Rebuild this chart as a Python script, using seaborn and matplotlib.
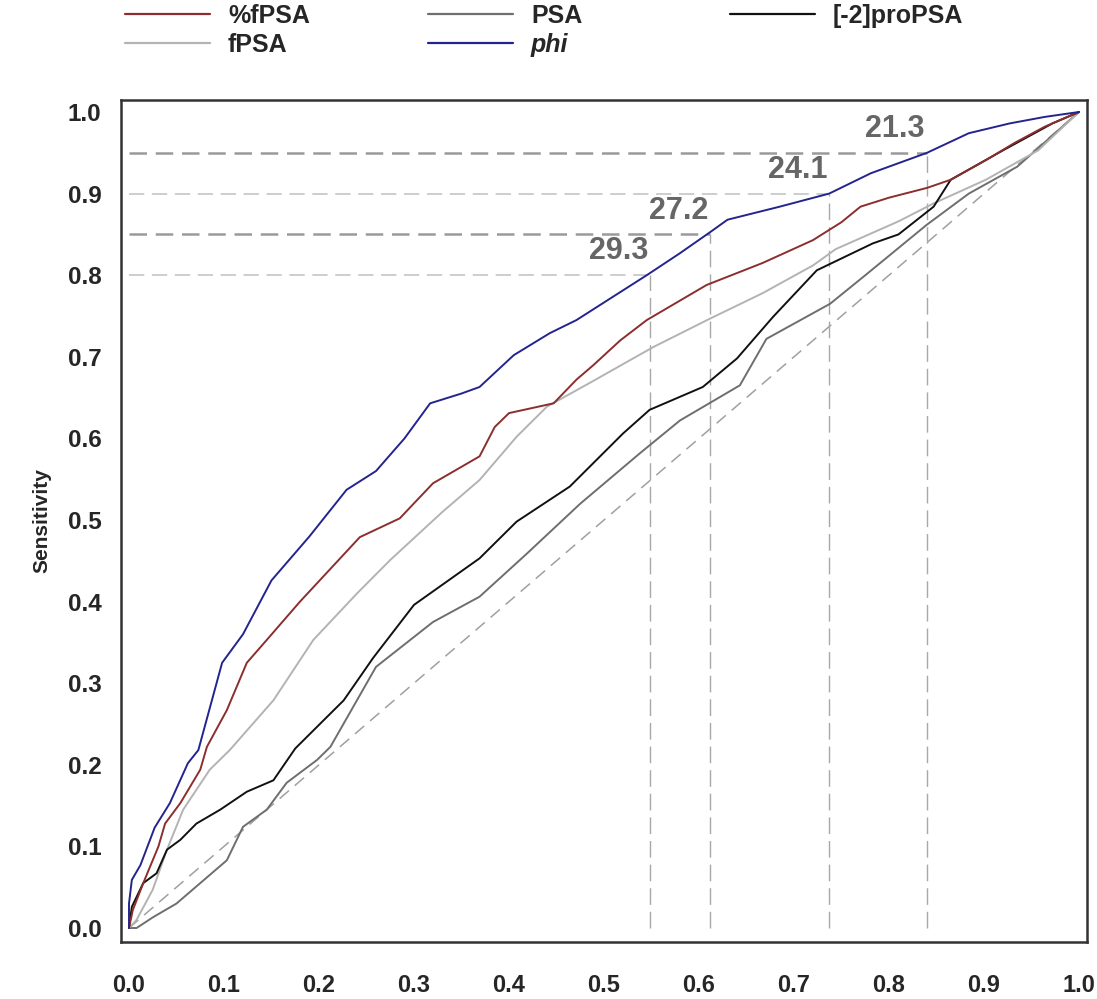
import matplotlib
matplotlib.use("Agg")
import matplotlib.pyplot as plt
import seaborn as sns
import pandas as pd
from matplotlib.lines import Line2D

# ---------------- data ----------------
series_names = ["%fPSA", "fPSA", "PSA", "phi", "[-2]proPSA"]

phi_x = [0, 0, 0.003, 0.012, 0.027, 0.043, 0.062, 0.073, 0.098, 0.12, 0.15, 0.19, 0.229, 0.26,
         0.29, 0.317, 0.35, 0.369, 0.405, 0.443, 0.471, 0.51, 0.545, 0.58, 0.612, 0.63, 0.685,
         0.737, 0.781, 0.84, 0.884, 0.927, 0.964, 1.0]
phi_y = [0, 0.03, 0.059, 0.077, 0.123, 0.153, 0.202, 0.218, 0.325, 0.36, 0.426, 0.48, 0.537, 0.56,
         0.60, 0.643, 0.655, 0.663, 0.702, 0.729, 0.745, 0.774, 0.80, 0.827, 0.853, 0.868, 0.884,
         0.90, 0.925, 0.95, 0.974, 0.986, 0.994, 1.0]

pfpsa_x = [0, 0.004, 0.015, 0.031, 0.038, 0.054, 0.075, 0.082, 0.103, 0.124, 0.145, 0.18, 0.243,
           0.285, 0.32, 0.369, 0.385, 0.40, 0.447, 0.471, 0.489, 0.517, 0.545, 0.608, 0.667,
           0.72, 0.75, 0.77, 0.80, 0.84, 0.865, 0.902, 0.932, 0.964, 1.0]
pfpsa_y = [0, 0.022, 0.055, 0.10, 0.128, 0.153, 0.194, 0.222, 0.267, 0.325, 0.353, 0.40, 0.479,
           0.502, 0.545, 0.578, 0.614, 0.631, 0.643, 0.672, 0.69, 0.72, 0.745, 0.788, 0.815,
           0.843, 0.865, 0.884, 0.895, 0.907, 0.917, 0.941, 0.962, 0.982, 1.0]

fpsa_x = [0, 0.008, 0.025, 0.04, 0.057, 0.085, 0.106, 0.152, 0.194, 0.24, 0.275, 0.33, 0.369,
          0.408, 0.44, 0.485, 0.552, 0.612, 0.667, 0.72, 0.744, 0.81, 0.847, 0.902, 0.957, 1.0]
fpsa_y = [0, 0.01, 0.047, 0.096, 0.145, 0.194, 0.218, 0.279, 0.353, 0.41, 0.451, 0.51, 0.549,
          0.602, 0.639, 0.668, 0.712, 0.747, 0.778, 0.812, 0.832, 0.866, 0.888, 0.917, 0.953, 1.0]

pro_x = [0, 0.003, 0.015, 0.029, 0.04, 0.054, 0.071, 0.096, 0.124, 0.152, 0.175, 0.226, 0.257,
         0.30, 0.369, 0.408, 0.464, 0.52, 0.548, 0.604, 0.64, 0.678, 0.724, 0.783, 0.81, 0.847,
         0.865, 0.92, 0.972, 1.0]
pro_y = [0, 0.026, 0.055, 0.067, 0.096, 0.108, 0.128, 0.145, 0.167, 0.181, 0.22, 0.279, 0.331,
         0.396, 0.453, 0.498, 0.541, 0.606, 0.635, 0.663, 0.698, 0.749, 0.806, 0.839, 0.85, 0.884,
         0.917, 0.953, 0.986, 1.0]

psa_x = [0, 0.008, 0.025, 0.05, 0.075, 0.103, 0.12, 0.145, 0.166, 0.198, 0.212, 0.26, 0.32,
         0.369, 0.419, 0.475, 0.538, 0.58, 0.643, 0.671, 0.738, 0.773, 0.84, 0.884, 0.935, 1.0]
psa_y = [0, 0, 0.013, 0.03, 0.055, 0.083, 0.124, 0.145, 0.178, 0.206, 0.222, 0.32, 0.375,
         0.406, 0.459, 0.52, 0.582, 0.622, 0.665, 0.722, 0.765, 0.798, 0.862, 0.9, 0.933, 1.0]

# cut-off annotations
cut_spec = [0.548, 0.612, 0.737, 0.840]
cut_sens = [0.80, 0.85, 0.90, 0.95]
cut_labels = ["29.3", "27.2", "24.1", "21.3"]
label_x = [0.515, 0.579, 0.704, 0.806]
label_y = [0.830, 0.879, 0.929, 0.979]

ticks = [0.0, 0.1, 0.2, 0.3, 0.4, 0.5, 0.6, 0.7, 0.8, 0.9, 1.0]
tick_labels = ["0.0", "0.1", "0.2", "0.3", "0.4", "0.5", "0.6", "0.7", "0.8", "0.9", "1.0"]

colors = {"%fPSA": "#8b2e2e", "fPSA": "#b3b3b3", "PSA": "#6e6e6e",
          "phi": "#24248f", "[-2]proPSA": "#111111"}

frames = []
for name, xs, ys in [("%fPSA", pfpsa_x, pfpsa_y), ("fPSA", fpsa_x, fpsa_y),
                     ("PSA", psa_x, psa_y), ("phi", phi_x, phi_y),
                     ("[-2]proPSA", pro_x, pro_y)]:
    frames.append(pd.DataFrame({"fpr": xs, "sens": ys, "marker": name}))
df = pd.concat(frames, ignore_index=True)

# ---------------- figure ----------------
sns.set_style("white")
plt.rcParams['font.family'] = ['Liberation Sans', 'DejaVu Sans']

fig = plt.figure(figsize=(10.97, 9.99), dpi=100)
ax = fig.add_axes([121 / 1097, 1 - 942 / 999, 966 / 1097, 842 / 999])

# reference lines
ax.plot([0, 1], [0, 1], color="#a0a0a0", lw=1.1, dashes=(8, 5), zorder=1)
for s, c in zip(cut_sens, cut_spec):
    strong = s in (0.95, 0.85)
    ax.plot([0, c], [s, s], color="#9a9a9a" if strong else "#c0c0c0",
            lw=1.8 if strong else 1.1, dashes=(7, 3.5) if strong else (10, 5), zorder=1)
    ax.plot([c, c], [0, s], color="#a8a8a8", lw=1.0, dashes=(12, 5), zorder=1)

# ROC curves (draw order: grey ones first)
draw_order = ["PSA", "fPSA", "[-2]proPSA", "%fPSA", "phi"]
for name in draw_order:
    sub = df[df["marker"] == name]
    sns.lineplot(data=sub, x="fpr", y="sens", ax=ax, color=colors[name], lw=1.4,
                 estimator=None, sort=False, legend=False, zorder=3)

for t, x, y in zip(cut_labels, label_x, label_y):
    ax.text(x, y, t, ha="center", va="center", fontsize=22, fontweight="bold",
            color="#666666", zorder=4)

ax.set_xlim(-8 / 950, 1 + 8 / 950)
ax.set_ylim(-14 / 816, 1 + 12 / 816)
ax.set_xticks(ticks)
ax.set_xticklabels(tick_labels, fontsize=17, fontweight="bold")
ax.set_yticks(ticks)
ax.set_yticklabels(tick_labels, fontsize=17.5, fontweight="bold")
ax.set_xlabel("")
ax.set_ylabel("Sensitivity", fontsize=15, fontweight="bold", labelpad=12)
ax.tick_params(axis="x", direction="out", length=9, width=1.5, pad=14, color="#333333")
ax.tick_params(axis="y", direction="out", length=6, width=1.2, pad=8, color="#333333")
for sp in ax.spines.values():
    sp.set_color("#333333")
    sp.set_linewidth(1.8)

# legend (three separate columns)
cols = [(["%fPSA", "fPSA"], 125), (["PSA", "phi"], 428), (["[-2]proPSA"], 730)]
for names, px in cols:
    handles = [Line2D([], [], color=colors[n], lw=1.6) for n in names]
    leg = fig.legend(handles, names, loc="upper left",
                     bbox_to_anchor=(px / 1097, 1 - 4 / 999), frameon=False,
                     prop={"weight": "bold", "size": 18}, handlelength=3.4,
                     handletextpad=0.72, labelspacing=0.2, borderpad=0, borderaxespad=0)
    for txt in leg.get_texts():
        if txt.get_text() == "phi":
            txt.set_fontstyle("italic")

fig.savefig("out.png", dpi=100)
